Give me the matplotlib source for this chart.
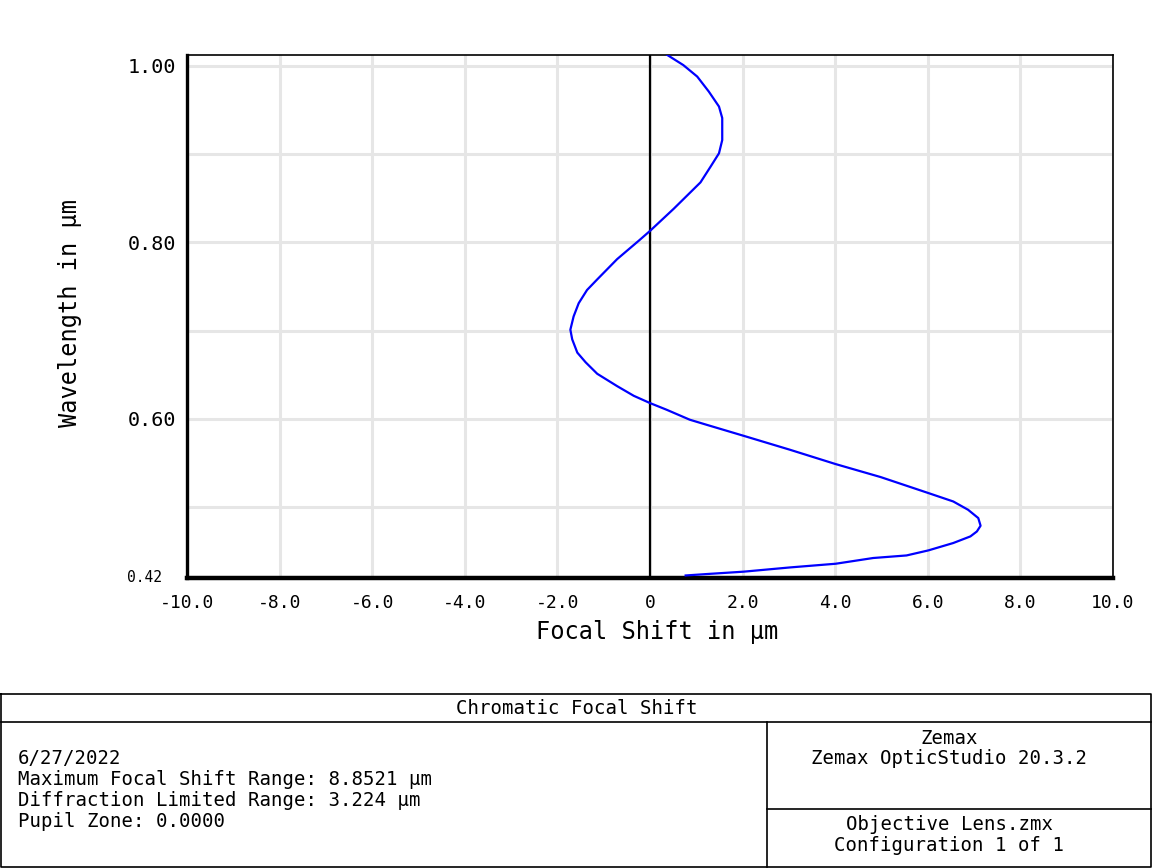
import matplotlib
matplotlib.use('Agg')
import matplotlib.pyplot as plt

# ---- data ----
wavelength_um = [0.4223, 0.4239, 0.4266, 0.4314, 0.4356, 0.4421, 0.4450, 0.4507,
                 0.4591, 0.4666, 0.4722, 0.4787, 0.4874, 0.4968, 0.5062, 0.5158,
                 0.5339, 0.5486, 0.5649, 0.5807, 0.5932, 0.5989, 0.6102, 0.6178,
                 0.626, 0.637, 0.651, 0.664, 0.675, 0.690,
                 0.701, 0.716, 0.731, 0.746, 0.758, 0.781, 0.802, 0.813, 0.838,
                 0.853, 0.868, 0.886, 0.901, 0.916, 0.941, 0.954, 0.971, 0.988,
                 1.001, 1.0126]
focal_shift_um = [0.77, 1.22, 2.02, 3.02, 4.01, 4.82, 5.54, 6.01,
                  6.55, 6.92, 7.06, 7.14, 7.09, 6.87, 6.55, 6.01,
                  4.98, 4.01, 3.02, 2.02, 1.22, 0.86, 0.36, 0.00,
                  -0.35, -0.71, -1.14, -1.39, -1.57, -1.68,
                  -1.72, -1.65, -1.54, -1.36, -1.14, -0.71, -0.24, 0.00, 0.51,
                  0.80, 1.09, 1.31, 1.49, 1.56, 1.56, 1.49, 1.27, 1.02,
                  0.72, 0.37]

x_ticks = [-10, -8, -6, -4, -2, 0, 2, 4, 6, 8, 10]
x_tick_labels = ['-10.0', '-8.0', '-6.0', '-4.0', '-2.0', '0',
                 '2.0', '4.0', '6.0', '8.0', '10.0']
y_ticks = [0.5, 0.6, 0.7, 0.8, 0.9, 1.0]
y_tick_labels = ['', '0.60', '', '0.80', '', '1.00']
y_min_label = '0.42'

title = 'Chromatic Focal Shift'
info_left = ['6/27/2022',
             'Maximum Focal Shift Range: 8.8521 µm',
             'Diffraction Limited Range: 3.224 µm',
             'Pupil Zone: 0.0000']
info_right_top = ['Zemax', 'Zemax OpticStudio 20.3.2']
info_right_bottom = ['Objective Lens.zmx', 'Configuration 1 of 1']

FONT = ['DejaVu Sans Mono', 'DejaVu Sans']
plt.rcParams['font.family'] = FONT

W, H = 1152, 868
fig = plt.figure(figsize=(W / 100, H / 100), dpi=100)

L, R, T, B = 187, 1113, 54.7, 577.5
ax = fig.add_axes([L / W, (H - B) / H, (R - L) / W, (B - T) / H])
ax.set_xlim(-10, 10)
ax.set_ylim(0.42, 1.0128)

ax.set_xticks(x_ticks)
ax.set_xticklabels(x_tick_labels, fontsize=13)
ax.set_yticks(y_ticks)
ax.set_yticklabels(y_tick_labels, fontsize=14.5)
ax.tick_params(axis='both', length=0)
ax.tick_params(axis='x', pad=12)
ax.tick_params(axis='y', pad=8)

ax.grid(True, color='#e6e6e6', linewidth=2.2)
ax.set_axisbelow(True)

ax.axvline(0, color='black', linewidth=1.6, zorder=2)
ax.plot(focal_shift_um, wavelength_um, color='#0000ff', linewidth=1.6, zorder=3)

ax.spines['left'].set_linewidth(2.4)
ax.spines['bottom'].set_linewidth(3.2)
ax.spines['top'].set_linewidth(1.2)
ax.spines['right'].set_linewidth(1.2)
for s in ax.spines.values():
    s.set_color('black')

# overlay in pixel coords for labels and info box
bx = fig.add_axes([0, 0, 1, 1], zorder=-1)
bx.set_xlim(0, W)
bx.set_ylim(H, 0)
bx.axis('off')
bx.patch.set_alpha(0)

bx.text(162, 577, y_min_label, ha='right', va='center', fontsize=10.5)
bx.text(657, 632, 'Focal Shift in µm', ha='center', va='center', fontsize=17)
bx.text(70, 313, 'Wavelength in µm', ha='center', va='center', fontsize=17,
        rotation=90)

lw = 1.2
bx.plot([1, 1151, 1151, 1, 1], [694, 694, 867, 867, 694], color='black', lw=lw)
bx.plot([1, 1151], [722, 722], color='black', lw=lw)
bx.plot([767, 767], [722, 867], color='black', lw=lw)
bx.plot([767, 1151], [809, 809], color='black', lw=lw)

fs = 13.7
bx.text(577, 708, title, ha='center', va='center', fontsize=fs)
for i, s in enumerate(info_left):
    bx.text(18, 758 + i * 21.3, s, ha='left', va='center', fontsize=fs)
for i, s in enumerate(info_right_top):
    bx.text(949, 738 + i * 21, s, ha='center', va='center', fontsize=fs)
for i, s in enumerate(info_right_bottom):
    bx.text(949, 825 + i * 20.5, s, ha='center', va='center', fontsize=fs)

fig.savefig('out.png', dpi=100)
